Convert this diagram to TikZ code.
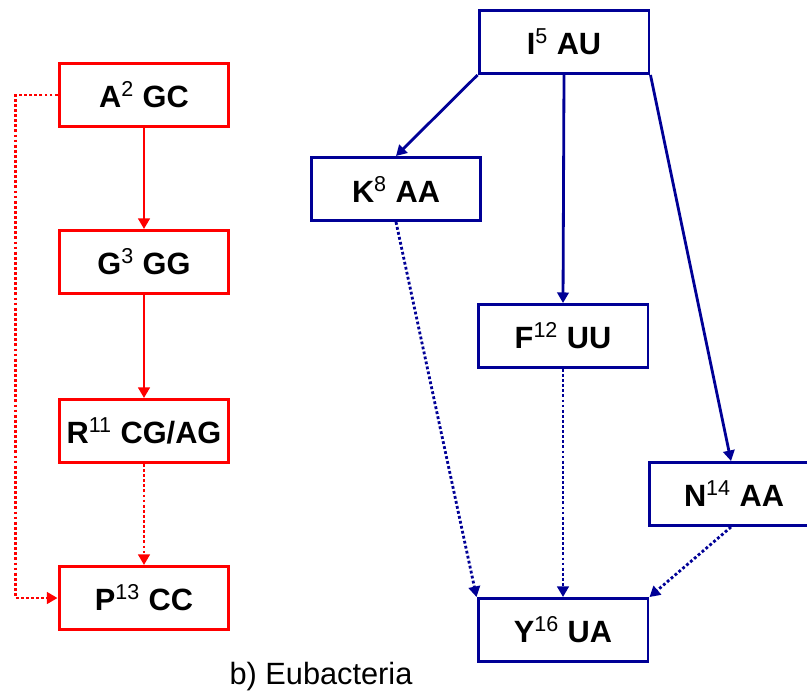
\documentclass[tikz,border=0pt]{standalone}
\usepackage{fontspec}
\setmainfont{Liberation Sans}
\usepackage{tikz}
\usetikzlibrary{shapes,calc,positioning,arrows.meta}

\definecolor{boxred}{RGB}{255,0,0}
\definecolor{boxblue}{RGB}{0,0,150}

\newcommand{\pos}[1]{\textsuperscript{\mdseries #1}}

\begin{document}
\begin{tikzpicture}[x=0.02cm, y=-0.02cm,
    every node/.append style={font=\bfseries\fontsize{17.5}{20}\selectfont},
    codon/.style={draw, rectangle, line width=1.7pt, minimum width=3.4cm, minimum height=1.26cm, inner sep=2pt, fill=white},
    redbox/.style={codon, draw=boxred},
    bluebox/.style={codon, draw=boxblue},
    link/.style={line width=1.6pt, -{Triangle[length=6pt,width=6.5pt]}},
    dots/.style={link, dash pattern=on 1.6pt off 1.3pt}]
    \useasboundingbox (0,0) rectangle (807,698);
    \clip (0,0) rectangle (807,698);

    % left column
    \node (A2) [redbox] at (144,95) {A\pos{2} GC};
    \node (G3) [redbox] at (144,262) {G\pos{3} GG};
    \node (R11) [redbox] at (144,431) {R\pos{11} CG/AG};
    \node (P13) [redbox] at (144,598) {P\pos{13} CC};

    % right part
    \node (I5) [bluebox] at (564,42) {I\pos{5} AU};
    \node (K8) [bluebox] at (396,189) {K\pos{8} AA};
    \node (F12) [bluebox] at (563,336) {F\pos{12} UU};
    \node (N14) [bluebox] at (734,494) {N\pos{14} AA};
    \node (Y16) [bluebox] at (563,630) {Y\pos{16} UA};

    \node (caption) [font=\fontsize{17.5}{20}\selectfont] at (321,677) {b) Eubacteria};

    \draw [link, boxred] (A2) -- (G3);
    \draw [link, boxred] (G3) -- (R11);
    \draw [dots, boxred] (R11) -- (P13);
    \draw [dots, boxred] (A2.west) -- ++(-42,0) |- (P13.west);

    \draw [link, boxblue] (I5.south west) -- (K8.north);
    \draw [link, boxblue] (I5.south) -- (F12.north);
    \draw [link, boxblue] (I5.south east) -- ($(N14.north)+(-3,0)$);
    \draw [dots, boxblue] (K8.south) -- (Y16.north west);
    \draw [dots, boxblue] (F12.south) -- (Y16.north);
    \draw [dots, boxblue] ($(N14.south)+(-3,0)$) -- (Y16.north east);
\end{tikzpicture}
\end{document}
